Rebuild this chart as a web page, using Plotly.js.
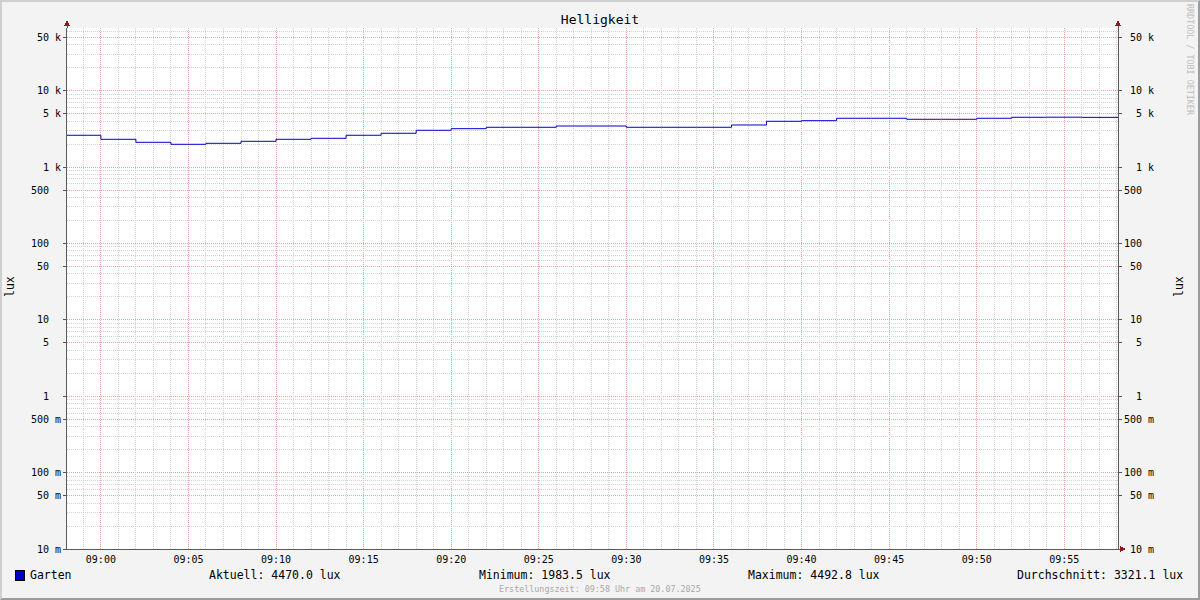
<!DOCTYPE html>
<html>
<head>
<meta charset="utf-8">
<script src="https://cdn.plot.ly/plotly-3.0.1.min.js"></script>
<style>
html,body{margin:0;padding:0;background:#f3f3f3;}
#wrap{position:relative;width:1200px;height:600px;}
#chart{position:absolute;left:0;top:0;width:1200px;height:600px;}
#chart path{shape-rendering:crispEdges;}
#chart .scatterlayer path{shape-rendering:auto;}
#frame{position:absolute;left:0;top:0;width:1200px;height:600px;box-sizing:border-box;
  border-top:2px solid #cfcfcf;border-left:2px solid #cfcfcf;border-bottom:2px solid #9c9c9c;border-right:2px solid #9c9c9c;pointer-events:none;}
</style>
</head>
<body>
<div id="wrap"><div id="chart"></div><div id="frame"></div></div>
<script>
// ---- data ----
const times = ['08:58','09:00','09:02','09:04','09:06','09:08','09:10','09:12','09:14','09:16',
  '09:18','09:20','09:22','09:24','09:26','09:28','09:30','09:32','09:34','09:36',
  '09:38','09:40','09:42','09:44','09:46','09:48','09:50','09:52','09:54','09:56','09:58:04'];
const lux = [2604,2307,2107,1983.5,2045,2172,2307,2378,2604,2765,
  3027,3177,3313,3313,3445,3445,3313,3313,3313,3551,
  3970,4044,4348,4348,4217,4217,4348,4480,4492.8,4470,4470];
const day = '2025-07-20';
const seriesName = 'Garten';
const yTickVals = [0.01,0.05,0.1,0.5,1,5,10,50,100,500,1000,5000,10000,50000];
const yTickText = [' 10 m',' 50 m','100 m','500 m','  1  ','  5  ',' 10  ',' 50  ','100  ','500  ','  1 k','  5 k',' 10 k',' 50 k'];
const stats = ['Aktuell: 4470.0 lux','Minimum: 1983.5 lux','Maximum: 4492.8 lux','Durchschnitt: 3321.1 lux'];
const title = 'Helligkeit';
const footer = 'Erstellungszeit: 09:58 Uhr am 20.07.2025';
const watermark = 'RRDTOOL / TOBI OETIKER';

// ---- layout helpers ----
const L = 67, R = 1118, T = 28, B = 549;
const px = x => (x - L) / (R - L);
const py = y => (B - y) / (B - T);
const nb = s => s.replace(/ /g, '\u00a0');
const FONT = 'DejaVu Sans Mono';
const tstr = m => day + ' ' + String(8 + Math.floor(m / 60)).padStart(2, '0') + ':' + String(m % 60).padStart(2, '0') + ':00';

// grid positions
const yMinor = [];
for (let d = -2; d <= 4; d++) for (const k of [2,3,4,6,7,8,9]) yMinor.push(+(k * Math.pow(10, d)).toPrecision(3));
const xMinor = [], xMajor = [];
for (let m = 58; m <= 118; m++) (m % 5 === 0 ? xMajor : xMinor).push(tstr(m));

const xs = times.map(t => day + ' ' + (t.length === 5 ? t + ':00' : t));

const trace = {
  x: xs, y: lux, type: 'scatter', mode: 'lines', line: {shape: 'hv', color: '#0000cc', width: 1},
  hoverinfo: 'skip', showlegend: false, name: seriesName
};
const dummy = {x: [], y: [], yaxis: 'y2', type: 'scatter', mode: 'lines', showlegend: false, hoverinfo: 'skip'};

const yCommon = {
  type: 'log', range: [-2, 4.82], tickmode: 'array', tickvals: yTickVals, ticktext: yTickText.map(nb),
  ticks: 'outside', ticklen: 3, tickcolor: '#555', tickfont: {family: FONT, size: 10, color: '#000'},
  zeroline: false, fixedrange: true
};

const axisCol = '#5a5a5a';
const arrowCol = '#8b1c1c';
const majorGrid = '#e6a4a4';
const minorGrid = '#d2d2d2';
const shapes = [];
// major vertical grid on top of minor grid
xMajor.forEach(t => shapes.push({type: 'line', layer: 'below', xref: 'x', yref: 'paper', x0: t, x1: t, y0: 0, y1: 1,
  line: {color: majorGrid, width: 1, dash: '1px,1px'}}));
yTickVals.forEach(v => shapes.push({type: 'line', layer: 'below', xref: 'paper', yref: 'y', x0: 0, x1: 1, y0: v, y1: v,
  line: {color: majorGrid, width: 1, dash: '1px,1px'}}));
shapes.push(
  {type: 'line', xref: 'paper', yref: 'paper', x0: 0, x1: 0, y0: 1, y1: py(22), line: {color: axisCol, width: 1}},
  {type: 'line', xref: 'paper', yref: 'paper', x0: 1, x1: 1, y0: 1, y1: py(22), line: {color: axisCol, width: 1}},
  {type: 'line', xref: 'paper', yref: 'paper', x0: 1, x1: px(1121), y0: 0, y1: 0, line: {color: axisCol, width: 1}},
  {type: 'path', xref: 'paper', yref: 'paper', path: `M ${px(64)},${py(25.5)} L ${px(70)},${py(25.5)} L ${px(67)},${py(20)} Z`, fillcolor: arrowCol, line: {width: 0}},
  {type: 'path', xref: 'paper', yref: 'paper', path: `M ${px(1115)},${py(25.5)} L ${px(1121)},${py(25.5)} L ${px(1118)},${py(20)} Z`, fillcolor: arrowCol, line: {width: 0}},
  {type: 'path', xref: 'paper', yref: 'paper', path: `M ${px(1120)},${py(546)} L ${px(1120)},${py(552)} L ${px(1125.5)},${py(549)} Z`, fillcolor: arrowCol, line: {width: 0}},
  {type: 'rect', xref: 'paper', yref: 'paper', x0: px(15), x1: px(24), y0: py(570), y1: py(580), fillcolor: '#0000cc', line: {color: '#000', width: 1}}
);

const ann = (text, x, y, opts) => Object.assign({
  text: nb(text), xref: 'paper', yref: 'paper', x: px(x), y: py(y), xanchor: 'left', yanchor: 'middle',
  showarrow: false, font: {family: FONT, size: 11.5, color: '#000'}
}, opts || {});

const annotations = [
  ann(seriesName, 28, 575),
  ann(stats[0], 207, 575),
  ann(stats[1], 477, 575),
  ann(stats[2], 746, 575),
  ann(stats[3], 1015, 575),
  ann(footer, 600, 589, {xanchor: 'center', font: {family: FONT, size: 8.4, color: '#a8a8a8'}}),
  ann(watermark, 1190, 60, {xanchor: 'center', textangle: 90, font: {family: FONT, size: 8.4, color: '#bdbdbd'}}),
  ann('lux', 10, 287, {xanchor: 'center', textangle: -90, font: {family: FONT, size: 11.5, color: '#000'}}),
  ann('lux', 1179, 287, {xanchor: 'center', textangle: -90, font: {family: FONT, size: 11.5, color: '#000'}})
];

const layout = {
  width: 1200, height: 600,
  margin: {l: L, r: 1200 - R, t: T, b: 600 - B, pad: 0},
  paper_bgcolor: 'rgba(0,0,0,0)', plot_bgcolor: '#ffffff',
  title: {text: title, x: 0.5, xanchor: 'center', y: 1 - 19 / 600, yanchor: 'middle', font: {family: FONT, size: 13, color: '#000'}},
  showlegend: false,
  xaxis: {
    type: 'date', range: [day + ' 08:58:04', day + ' 09:58:04'],
    tick0: day + ' 09:00:00', dtick: 300000, tickformat: '%H:%M',
    tickfont: {family: FONT, size: 10, color: '#000'}, ticks: '', ticklabelstandoff: 1,
    showgrid: false,
    minor: {tickmode: 'array', tickvals: xMinor, showgrid: true, gridcolor: minorGrid, griddash: '1px,1px', gridwidth: 1, ticks: ''},
    showline: true, linecolor: axisCol, linewidth: 1, zeroline: false, fixedrange: true
  },
  yaxis: Object.assign({}, yCommon, {
    side: 'left', showgrid: false,
    minor: {tickmode: 'array', tickvals: yMinor, showgrid: true, gridcolor: minorGrid, griddash: '1px,1px', gridwidth: 1, ticks: ''},
    showline: true, linecolor: axisCol, linewidth: 1
  }),
  yaxis2: Object.assign({}, yCommon, {
    overlaying: 'y', side: 'right', showgrid: false, showline: true, linecolor: axisCol, linewidth: 1
  }),
  shapes: shapes,
  annotations: annotations
};

Plotly.newPlot('chart', [trace, dummy], layout, {staticPlot: true, displayModeBar: false});
</script>
</body>
</html>
